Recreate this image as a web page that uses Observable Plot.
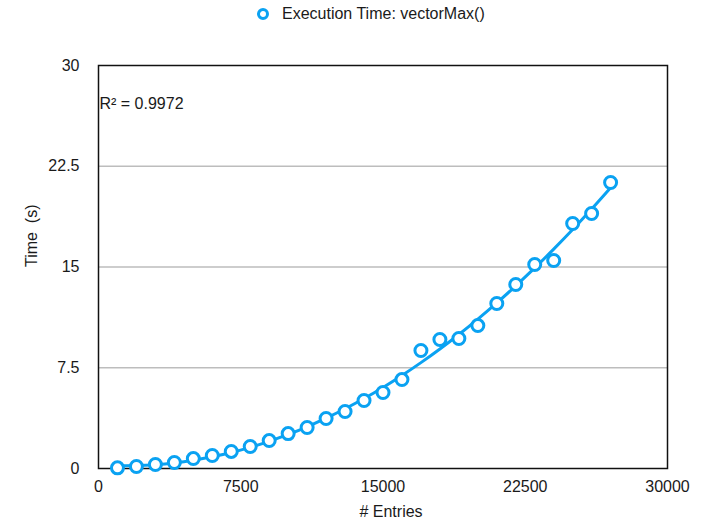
<!DOCTYPE html>
<html>
<head>
<meta charset="utf-8">
<script src="https://cdn.jsdelivr.net/npm/d3@7"></script>
<script src="https://cdn.jsdelivr.net/npm/@observablehq/plot@0.6"></script>
<style>
  html, body { margin: 0; padding: 0; background: white; }
  #legend { position: relative; width: 701px; height: 30px; font-family: "Liberation Sans", Arial, sans-serif; font-size: 16px; color: #1a1a1a; }
  #legend svg { position: absolute; left: 255px; top: 6px; }
  #legend span { position: absolute; left: 282px; top: 0; line-height: 28px; white-space: nowrap; }
</style>
</head>
<body>
<div id="legend"></div>
<div id="chart"></div>
<script>
const seriesName = "Execution Time: vectorMax()";
const entries = [1000, 2000, 3000, 4000, 5000, 6000, 7000, 8000, 9000, 10000,
  11000, 12000, 13000, 14000, 15000, 16000, 17000, 18000, 19000, 20000,
  21000, 22000, 23000, 24000, 25000, 26000, 27000];
const times = [0.05, 0.15, 0.3, 0.45, 0.74, 0.97, 1.27, 1.64, 2.08, 2.6,
  3.05, 3.72, 4.24, 5.06, 5.66, 6.62, 8.78, 9.6, 9.68, 10.64,
  12.28, 13.7, 15.19, 15.48, 18.24, 18.98, 21.29];
const xTicks = [0, 7500, 15000, 22500, 30000];
const yTicks = [0, 7.5, 15, 22.5, 30];
const gridValues = [7.5, 15, 22.5];
const rSquaredLabel = "R² = 0.9972";
const xLabel = "# Entries";
const yLabel = "Time  (s)";
const blue = "#0aa2f2";

const data = entries.map((x, i) => ({x, y: times[i]}));

// Least-squares quadratic trend line fitted to the data
function quadFit(xs, ys) {
  const s = new Array(5).fill(0), t = new Array(3).fill(0);
  xs.forEach((x, i) => {
    const u = x / 1000;
    for (let k = 0; k < 5; k++) s[k] += Math.pow(u, k);
    for (let k = 0; k < 3; k++) t[k] += ys[i] * Math.pow(u, k);
  });
  const A = [[s[0], s[1], s[2], t[0]], [s[1], s[2], s[3], t[1]], [s[2], s[3], s[4], t[2]]];
  for (let i = 0; i < 3; i++) {
    for (let j = i + 1; j < 3; j++) {
      const f = A[j][i] / A[i][i];
      for (let k = i; k < 4; k++) A[j][k] -= f * A[i][k];
    }
  }
  const c = [0, 0, 0];
  for (let i = 2; i >= 0; i--) {
    let v = A[i][3];
    for (let k = i + 1; k < 3; k++) v -= A[i][k] * c[k];
    c[i] = v / A[i][i];
  }
  return x => { const u = x / 1000; return c[0] + c[1] * u + c[2] * u * u; };
}
const fit = quadFit(entries, times);
const trend = entries.map(x => ({x, y: fit(x)}));

// Legend
const legend = document.getElementById("legend");
legend.innerHTML = `<svg width="16" height="16"><circle cx="8" cy="8" r="4.5" fill="white" stroke="${blue}" stroke-width="3"/></svg><span>${seriesName}</span>`;

const chart = Plot.plot({
  width: 701,
  height: 493,
  marginTop: 35,
  marginBottom: 55,
  marginLeft: 98,
  marginRight: 34,
  style: {fontFamily: "'Liberation Sans', Arial, sans-serif", fontSize: "16px", color: "#1a1a1a", background: "white", overflow: "visible"},
  x: {domain: [0, 30000], ticks: xTicks, tickFormat: d3.format("d"), label: null, tickSize: 0, tickPadding: 12},
  y: {domain: [0, 30], ticks: yTicks, tickFormat: d => String(d), label: null, tickSize: 0, tickPadding: 19},
  marks: [
    Plot.ruleY(gridValues, {stroke: "#bdbdbd", strokeWidth: 1.5}),
    Plot.frame({stroke: "#111", strokeWidth: 1.5}),
    Plot.line(trend, {x: "x", y: "y", stroke: blue, strokeWidth: 3, curve: "natural"}),
    Plot.dot(data, {x: "x", y: "y", r: 6, stroke: blue, strokeWidth: 3, fill: "white"}),
    Plot.text([rSquaredLabel], {frameAnchor: "top-left", textAnchor: "start", dx: 1, dy: 32, fill: "#1a1a1a"}),
    Plot.text([xLabel], {frameAnchor: "bottom", dx: 8, dy: 48, fill: "#1a1a1a"}),
    Plot.text([yLabel], {frameAnchor: "left", rotate: -90, dx: -67, fill: "#1a1a1a"})
  ]
});
document.getElementById("chart").appendChild(chart);
</script>
</body>
</html>
